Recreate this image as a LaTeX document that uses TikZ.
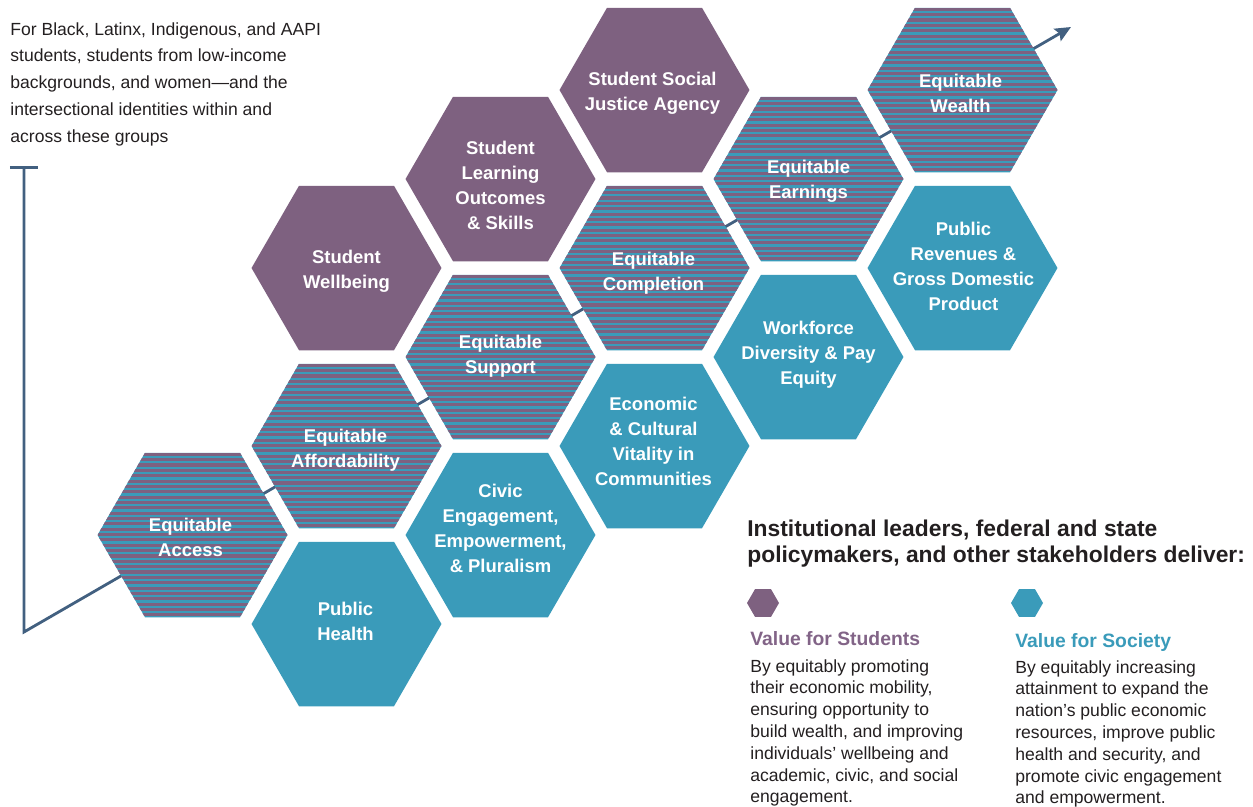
\documentclass[tikz,border=0pt]{standalone}
\usepackage{fontspec}
\setmainfont{Liberation Sans}
\usetikzlibrary{shapes.geometric,arrows.meta,calc}
\definecolor{hpurple}{RGB}{126,97,128}
\definecolor{hteal}{RGB}{58,155,186}
\definecolor{axisblue}{RGB}{66,96,128}
\definecolor{bodytext}{RGB}{35,31,32}
\definecolor{stitle}{RGB}{130,100,135}
\begin{document}
\begin{tikzpicture}[x=0.02cm,y=-0.02cm,
  hexbase/.style={regular polygon, regular polygon sides=6, minimum size=3.8cm, inner sep=0pt, draw=none},
  purplehex/.style={hexbase, fill=hpurple},
  tealhex/.style={hexbase, fill=hteal},
  stripehex/.style={hexbase, fill=hteal, path picture={
     \foreach \k in {0,...,31}{
       \fill[hpurple] ($(path picture bounding box.north west)+(0,\k*5.35)$) rectangle ++(200,3.1);
     }}},
  hextext/.style={align=center, text=white, font=\bfseries\fontsize{10.5}{14.2}\selectfont, inner sep=0pt},
  bodyblock/.style={anchor=north west, inner sep=0pt, align=left, text=bodytext},
  keyhex/.style={regular polygon, regular polygon sides=6, minimum size=0.64cm, inner sep=0pt, draw=none},
  axisline/.style={draw=axisblue, line width=1.6pt}
]
\useasboundingbox (0,0) rectangle (1253,806);

% axis
\coordinate (axtop) at (24,166);
\coordinate (axcorner) at (24,632);
\coordinate (axtip) at (1071,27);
\draw[axisline, {Bar[width=16pt]}-{Stealth[length=9pt,width=8pt,inset=1.5pt]}] (axtop) -- (axcorner) -- (axtip);

% hexagons
\node[stripehex] (access) at (192.5,535) {};
\node[purplehex] (wellbeing) at (346.5,268) {};
\node[stripehex] (afford) at (346.5,446) {};
\node[tealhex] (health) at (346.5,624) {};
\node[purplehex] (learning) at (500.5,179) {};
\node[stripehex] (support) at (500.5,357) {};
\node[tealhex] (civic) at (500.5,535) {};
\node[purplehex] (sja) at (654.5,90) {};
\node[stripehex] (completion) at (654.5,268) {};
\node[tealhex] (econ) at (654.5,446) {};
\node[stripehex] (earnings) at (808.5,179) {};
\node[tealhex] (workforce) at (808.5,357) {};
\node[stripehex] (wealth) at (962.5,90) {};
\node[tealhex] (revenue) at (962.5,268) {};

% hexagon texts
\node[hextext] (access-t) at ($(access)+(-2,2)$) {Equitable\\Access};
\node[hextext] (wellbeing-t) at ($(wellbeing)+(0,3)$) {Student\\Wellbeing};
\node[hextext] (afford-t) at ($(afford)+(-1,4)$) {Equitable\\Affordability};
\node[hextext] (health-t) at ($(health)+(-1,-3)$) {Public\\Health};
\node[hextext] (learning-t) at ($(learning)+(0,6)$) {Student\\Learning\\Outcomes\\\& Skills};
\node[hextext] (support-t) at ($(support)+(0,-1)$) {Equitable\\Support};
\node[hextext] (civic-t) at ($(civic)+(0,-7)$) {Civic\\Engagement,\\Empowerment,\\\& Pluralism};
\node[hextext] (sja-t) at ($(sja)+(-2,3)$) {Student Social\\Justice Agency};
\node[hextext] (completion-t) at ($(completion)+(-1,5)$) {Equitable\\Completion};
\node[hextext] (econ-t) at ($(econ)+(-1,-5)$) {Economic\\\& Cultural\\Vitality in\\Communities};
\node[hextext] (earnings-t) at ($(earnings)+(0,2)$) {Equitable\\Earnings};
\node[hextext] (workforce-t) at ($(workforce)+(0,-2)$) {Workforce\\Diversity \& Pay\\Equity};
\node[hextext] (wealth-t) at ($(wealth)+(-2,3)$) {Equitable\\Wealth};
\node[hextext] (revenue-t) at ($(revenue)+(1,-2)$) {Public\\Revenues \&\\Gross Domestic\\Product};

% intro text
\node[bodyblock, font=\fontsize{10}{15.3}\selectfont] (intro) at (10,22)
  {For Black, Latinx, Indigenous, and AAPI\\students, students from low-income\\backgrounds, and women---and the\\intersectional identities within and\\across these groups};

% legend
\node[bodyblock, font=\bfseries\fontsize{13}{14.7}\selectfont] (heading) at (747,520)
  {Institutional leaders, federal and state\\policymakers, and other stakeholders deliver:};
\node[keyhex, fill=hpurple] (keyS) at (763,603) {};
\node[keyhex, fill=hteal] (keyT) at (1027,603) {};
\node[bodyblock, text=stitle, font=\bfseries\fontsize{11}{13}\selectfont] (titleS) at (750,631) {Value for Students};
\node[bodyblock, text=hteal, font=\bfseries\fontsize{11}{13}\selectfont] (titleT) at (1015,633) {Value for Society};
\node[bodyblock, font=\fontsize{10}{12.4}\selectfont] (bodyS) at (750,659)
  {By equitably promoting\\their economic mobility,\\ensuring opportunity to\\build wealth, and improving\\individuals’ wellbeing and\\academic, civic, and social\\engagement.};
\node[bodyblock, font=\fontsize{10}{12.4}\selectfont] (bodyT) at (1015,660)
  {By equitably increasing\\attainment to expand the\\nation’s public economic\\resources, improve public\\health and security, and\\promote civic engagement\\and empowerment.};
\end{tikzpicture}
\end{document}
